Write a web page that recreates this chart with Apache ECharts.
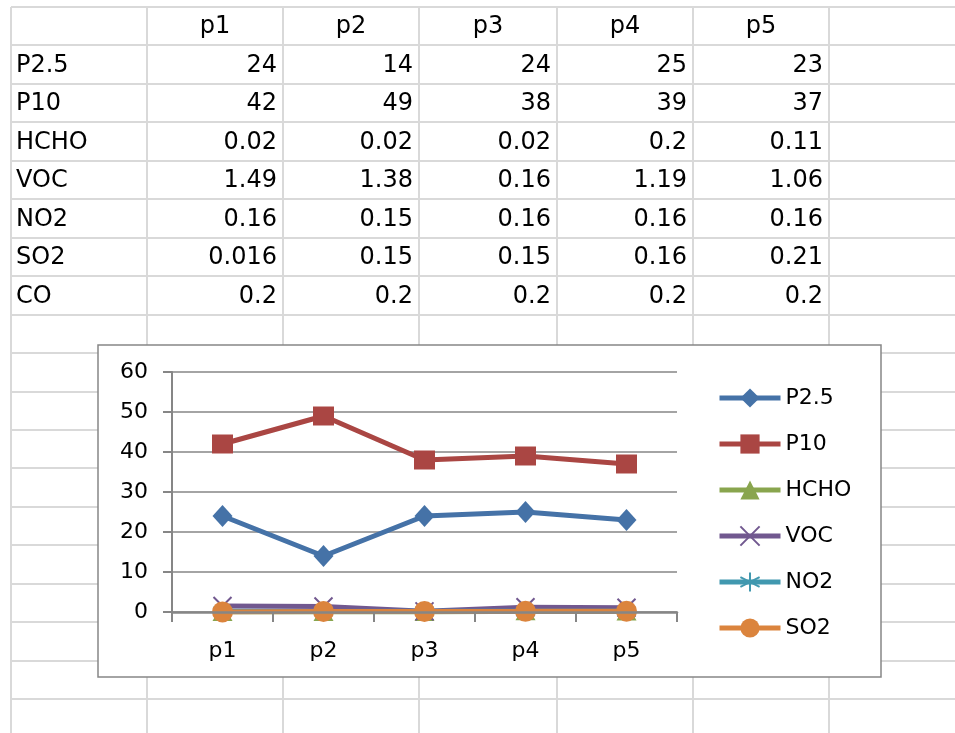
<!DOCTYPE html>
<html>
<head>
<meta charset="utf-8">
<script src="https://cdn.jsdelivr.net/npm/echarts@6/dist/echarts.min.js"></script>
<style>
html,body{margin:0;padding:0;background:#fff;}
#main{width:955px;height:733px;}
</style>
</head>
<body>
<div id="main"></div>
<script>
// ---- data ----
var categories = ['p1', 'p2', 'p3', 'p4', 'p5'];
var rowNames = ['P2.5', 'P10', 'HCHO', 'VOC', 'NO2', 'SO2', 'CO'];
var P25  = [24, 14, 24, 25, 23];
var P10  = [42, 49, 38, 39, 37];
var HCHO = [0.02, 0.02, 0.02, 0.2, 0.11];
var VOC  = [1.49, 1.38, 0.16, 1.19, 1.06];
var NO2  = [0.16, 0.15, 0.16, 0.16, 0.16];
var SO2  = [0.016, 0.15, 0.15, 0.16, 0.21];
var CO   = [0.2, 0.2, 0.2, 0.2, 0.2];
var chartSeriesNames = ['P2.5', 'P10', 'HCHO', 'VOC', 'NO2', 'SO2'];
var yMin = 0, yMax = 60, yStep = 10;

// ---- layout / style ----
var tableRows = [P25, P10, HCHO, VOC, NO2, SO2, CO];
var chartData = [P25, P10, HCHO, VOC, NO2, SO2];
var colX = [11, 147, 283, 419, 557, 693, 829];
var rowY0 = 7, rowH = 38.45, nRows = 19;
var gridColor = '#d9d9d9';
var FONT = '"DejaVu Sans", sans-serif';
var tableFont = '24px ' + FONT;
var colors = ['#4572A7', '#AA4643', '#89A54E', '#71588F', '#4198AF', '#DB843D'];
var symbols = [
  'diamond',
  'rect',
  'triangle',
  'path://M0,0L10,10M10,0L0,10',
  'path://M5,0L5,10M0,2.5L10,7.5M0,7.5L10,2.5',
  'circle'
];
var symbolSizes = [[20, 22], [21, 19], [20, 18], [18, 18], [18, 18], 21];

var graphics = [];
for (var i = 0; i < nRows; i++) {
  var y = Math.round(rowY0 + i * rowH);
  graphics.push({type: 'line', z: -20, silent: true,
    shape: {x1: colX[0], y1: y, x2: 955, y2: y},
    style: {stroke: gridColor, lineWidth: 2}});
}
colX.forEach(function (x) {
  graphics.push({type: 'line', z: -20, silent: true,
    shape: {x1: x, y1: rowY0, x2: x, y2: 733},
    style: {stroke: gridColor, lineWidth: 2}});
});
categories.forEach(function (c, j) {
  graphics.push({type: 'text', z: -15, silent: true,
    style: {text: c, x: (colX[j + 1] + colX[j + 2]) / 2, y: rowY0 + rowH * 0.5 + 1,
      font: tableFont, fill: '#000', align: 'center', verticalAlign: 'middle'}});
});
rowNames.forEach(function (name, r) {
  var cy = rowY0 + rowH * (r + 1.5) + 1;
  graphics.push({type: 'text', z: -15, silent: true,
    style: {text: name, x: colX[0] + 5, y: cy, font: tableFont, fill: '#000',
      align: 'left', verticalAlign: 'middle'}});
  tableRows[r].forEach(function (v, j) {
    graphics.push({type: 'text', z: -15, silent: true,
      style: {text: String(v), x: colX[j + 2] - 6, y: cy, font: tableFont, fill: '#000',
        align: 'right', verticalAlign: 'middle'}});
  });
});
graphics.push({type: 'rect', z: -10, silent: true,
  shape: {x: 98, y: 345, width: 783, height: 332},
  style: {fill: '#fff', stroke: '#868686', lineWidth: 1.5}});

var series = chartSeriesNames.map(function (name, k) {
  var isPath = k === 3 || k === 4;
  return {
    name: name,
    type: 'line',
    data: chartData[k],
    symbol: symbols[k],
    symbolSize: symbolSizes[k],
    showAllSymbol: true,
    z: 2 + k,
    clip: true,
    lineStyle: {color: colors[k], width: 5},
    itemStyle: isPath ? {color: colors[k], borderColor: colors[k], borderWidth: 2, opacity: 1}
                      : {color: colors[k], borderWidth: 0},
    emphasis: {disabled: true},
    animation: false
  };
});

var legendData = chartSeriesNames.map(function (name, k) {
  return {name: name, lineStyle: {width: 5, color: colors[k]}};
});

var chart = echarts.init(document.getElementById('main'), null, {renderer: 'canvas'});
chart.setOption({
  backgroundColor: '#fff',
  animation: false,
  graphic: {elements: graphics},
  grid: {left: 172, right: 278, top: 372, bottom: 121, containLabel: false},
  legend: {
    orient: 'vertical',
    left: 712,
    top: 382,
    itemWidth: 61,
    itemHeight: 24,
    itemGap: 24,
    data: legendData,
    lineStyle: {width: 5},
    textStyle: {fontFamily: FONT, fontSize: 22, color: '#000'},
    selectedMode: false
  },
  xAxis: {
    type: 'category',
    data: categories,
    boundaryGap: true,
    z: 10,
    axisLine: {show: true, lineStyle: {color: '#868686', width: 2.5}},
    axisTick: {show: true, length: 10, inside: false, lineStyle: {color: '#868686', width: 2}},
    axisLabel: {fontFamily: FONT, fontSize: 22, color: '#000', margin: 28},
    splitLine: {show: false}
  },
  yAxis: {
    type: 'value',
    min: yMin,
    max: yMax,
    interval: yStep,
    axisLine: {show: true, lineStyle: {color: '#868686', width: 2}},
    axisTick: {show: true, length: 9, lineStyle: {color: '#868686', width: 2}},
    axisLabel: {fontFamily: FONT, fontSize: 22, color: '#000', margin: 24},
    splitLine: {show: true, lineStyle: {color: '#868686', width: 1.5}}
  },
  series: series
});
</script>
</body>
</html>
